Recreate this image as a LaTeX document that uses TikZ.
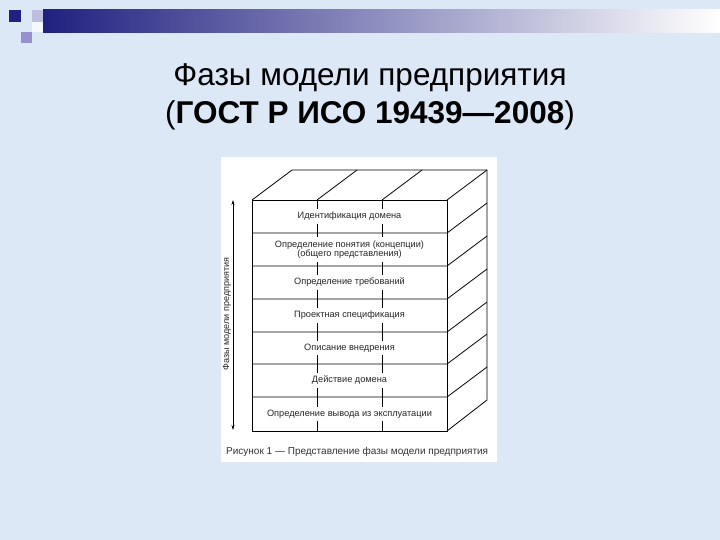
\documentclass[tikz,border=0pt]{standalone}
\usepackage{fontspec}
\setmainfont{Liberation Sans}
\usetikzlibrary{arrows.meta}
\definecolor{bgblue}{RGB}{221,232,247}
\definecolor{navyblue}{RGB}{32,32,128}
\definecolor{lavender}{RGB}{190,190,225}
\definecolor{lilac}{RGB}{150,145,205}
\begin{document}
\begin{tikzpicture}[x=1pt,y=-1pt,
    phase/.style={fill=white,inner xsep=2pt,inner ysep=3pt,align=center,
        text=black!85,font=\fontsize{9.2}{10}\selectfont},
    title/.style={font=\fontsize{31.5}{38}\selectfont,align=center}]
    \useasboundingbox (0,0) rectangle (720,540);
    \fill[bgblue] (0,0) rectangle (720,540);
    % corner squares and bar
    \fill[navyblue] (9,10) rectangle ++(12,12);
    \fill[lavender] (32,10) rectangle ++(11,12);
    \fill[white!70!bgblue] (32,22) rectangle ++(11,10);
    \fill[lilac] (21,32) rectangle ++(11,11);
    \shade[left color=navyblue, right color=white] (43,10) rectangle (720,33);
    % title
    \node[title] (head) at (370,97) {Фазы модели предприятия\\(\textbf{ГОСТ Р ИСО 19439—2008})};
    % figure panel
    \fill[white] (221,157) rectangle (497,462);
    % box
    \draw[thick] (252,200) rectangle (447,431);
    \draw[thick] (252,200) -- ++(40,-30) -- (487,170) -- (487,400) -- (447,431);
    \draw[thick] (447,200) -- (487,170);
    \foreach \x in {317,382}{
        \draw[thick] (\x,200) -- ++(40,-30);
        \draw[thick] (\x,200) -- (\x,431);
    }
    \foreach \y in {233,266,299,332,364,397}{
        \draw[thick] (252,\y) -- (447,\y) -- ++(40,-30);
    }
    % phases
    \node[phase] (ident) at (349.5,216.5) {Идентификация домена};
    \node[phase,font=\fontsize{9.2}{9.5}\selectfont] (concept) at (349.5,249.5) {Определение понятия (концепции)\\(общего представления)};
    \node[phase] (req) at (349.5,282.5) {Определение требований};
    \node[phase] (design) at (349.5,315.5) {Проектная спецификация};
    \node[phase] (impl) at (349.5,348) {Описание внедрения};
    \node[phase] (oper) at (349.5,380.5) {Действие домена};
    \node[phase] (decom) at (349.5,414) {Определение вывода из эксплуатации};
    % axis
    \coordinate (axtop) at (233,200);
    \coordinate (axbot) at (233,430);
    \draw[semithick,{Stealth[length=5pt,width=3pt]}-{Stealth[length=5pt,width=3pt]}] (axtop) -- (axbot);
    \node[rotate=90,inner sep=0pt,text=black!85,font=\fontsize{9}{10}\selectfont] (axlabel) at (227,314) {Фазы модели предприятия};
    % caption
    \node[anchor=west,inner sep=0pt,text=black!80,font=\fontsize{10}{11}\selectfont] (caption) at (226,452) {Рисунок 1 — Представление фазы модели предприятия};
\end{tikzpicture}
\end{document}
